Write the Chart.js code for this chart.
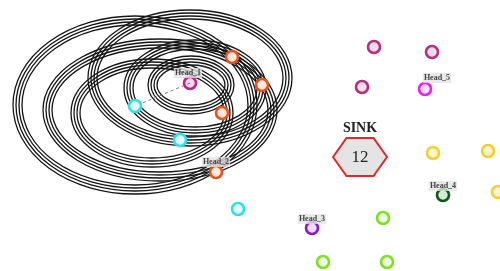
<!DOCTYPE html>
<html>
<head>
<meta charset="utf-8">
<script src="https://cdn.jsdelivr.net/npm/chart.js@4.4.0/dist/chart.umd.min.js"></script>
<style>
  body { margin: 0; background: #fff; }
  #wrap { width: 500px; height: 271px; }
</style>
</head>
<body>
<div id="wrap"><canvas id="myChart" width="500" height="271"></canvas></div>
<script>
// node positions (x, y in picture units, y grows downwards)
let orangeNodes = [{x: 232, y: 57}, {x: 262, y: 85}, {x: 222, y: 113}, {x: 216, y: 172}];
let cyanNodes = [{x: 135, y: 106}, {x: 180, y: 140}, {x: 238, y: 209}];
let head1Node = [{x: 190, y: 83}];
let plumNodes = [{x: 374, y: 47}, {x: 432, y: 52}, {x: 362, y: 87}];
let head5Node = [{x: 425, y: 89}];
let yellowNodes = [{x: 433, y: 153}, {x: 488, y: 151}, {x: 498, y: 192}];
let head4Node = [{x: 443, y: 195}];
let head3Node = [{x: 312, y: 228}];
let limeNodes = [{x: 383, y: 218}, {x: 323, y: 262}, {x: 387, y: 262}];
let routeLine = [{x: 190, y: 83}, {x: 140, y: 104}];

// cluster head labels
let headNames = ['Head_1', 'Head_2', 'Head_3', 'Head_4', 'Head_5'];
let headLabelX = [188, 216, 312, 443, 437];
let headLabelY = [73, 162, 219, 186, 78];

// sink
let sinkX = 360, sinkY = 157;
let sinkName = 'SINK';
let sinkId = '12';

// radio range rings: centre x, centre y, radius x, radius y (one per family)
let ringCx = [191, 195, 190, 135, 152, 160];
let ringCy = [85, 88, 78, 105, 113, 110];
let ringRx = [34, 62, 93, 113, 72, 108];
let ringRy = [20, 39, 59, 80, 45, 62];

let ringPlugin = {
    id: 'rings',
    beforeDatasetsDraw(chart) {
        let c = chart.ctx, sx = chart.scales.x, sy = chart.scales.y;
        c.save();
        c.strokeStyle = '#151515';
        c.lineWidth = 1.3;
        for (let i = 0; i < ringCx.length; i++) {
            let px = sx.getPixelForValue(ringCx[i]);
            let py = sy.getPixelForValue(ringCy[i]);
            for (let k = 0; k < 4; k++) {
                let rx = Math.abs(sx.getPixelForValue(ringCx[i] + ringRx[i] + k * 3) - px);
                let ry = Math.abs(sy.getPixelForValue(ringCy[i] + ringRy[i] + k * 3) - py);
                c.beginPath();
                c.ellipse(px, py, rx, ry, 0, 0, Math.PI * 2);
                c.stroke();
            }
        }
        c.restore();
    },
    afterDatasetsDraw(chart) {
        let c = chart.ctx, sx = chart.scales.x, sy = chart.scales.y;
        c.save();
        // sink hexagon
        let px = sx.getPixelForValue(sinkX), py = sy.getPixelForValue(sinkY);
        let w = 27, h = 19;
        c.beginPath();
        c.moveTo(px - w, py);
        c.lineTo(px - w / 2, py - h);
        c.lineTo(px + w / 2, py - h);
        c.lineTo(px + w, py);
        c.lineTo(px + w / 2, py + h);
        c.lineTo(px - w / 2, py + h);
        c.closePath();
        c.fillStyle = '#e4e4e4';
        c.fill();
        c.strokeStyle = '#e02828';
        c.lineWidth = 2;
        c.stroke();
        c.fillStyle = '#222';
        c.textAlign = 'center';
        c.textBaseline = 'middle';
        c.font = '17px "Liberation Serif"';
        c.fillText(sinkId, px, py + 1);
        c.font = 'bold 14px "Liberation Serif"';
        c.fillText(sinkName, px, py - 29);
        // head labels
        c.font = 'bold 8px "Liberation Serif"';
        for (let i = 0; i < headNames.length; i++) {
            let lx = sx.getPixelForValue(headLabelX[i]);
            let ly = sy.getPixelForValue(headLabelY[i]);
            let tw = c.measureText(headNames[i]).width;
            c.fillStyle = 'rgba(228,228,228,0.8)';
            c.fillRect(lx - tw / 2 - 1, ly - 5, tw + 2, 10);
            c.fillStyle = '#444';
            c.fillText(headNames[i], lx, ly);
        }
        c.restore();
    }
};

let node = (data, color, fill) => ({
    type: 'scatter',
    data: data,
    pointRadius: 6,
    pointBorderWidth: 2.6,
    pointBorderColor: color,
    pointBackgroundColor: fill
});

let ctx = document.getElementById('myChart').getContext('2d');
let myChart = new Chart(ctx, {
    type: 'scatter',
    data: {
        datasets: [
            {
                type: 'line',
                data: routeLine,
                borderColor: '#777',
                borderWidth: 1,
                borderDash: [3, 3],
                pointRadius: 0
            },
            node(orangeNodes, '#e8501c', '#fde8dc'),
            node(cyanNodes, '#2ee0ea', '#e2fbfc'),
            node(head1Node, '#c0208c', '#f3d8ec'),
            node(plumNodes, '#b4307e', '#f3dcea'),
            node(head5Node, '#ee1ef0', '#fde0fd'),
            node(yellowNodes, '#f0d030', '#fbf3cc'),
            node(head4Node, '#0b5a12', '#d8e8d8'),
            node(head3Node, '#8a18c8', '#ecdcf8'),
            node(limeNodes, '#7ee024', '#ecfbdc')
        ]
    },
    options: {
        responsive: false,
        animation: false,
        layout: { padding: 0, autoPadding: false },
        plugins: { legend: { display: false }, tooltip: { enabled: false } },
        scales: {
            x: { type: 'linear', min: 0, max: 500, display: false },
            y: { type: 'linear', min: 0, max: 271, reverse: true, display: false }
        }
    },
    plugins: [ringPlugin]
});
</script>
</body>
</html>
